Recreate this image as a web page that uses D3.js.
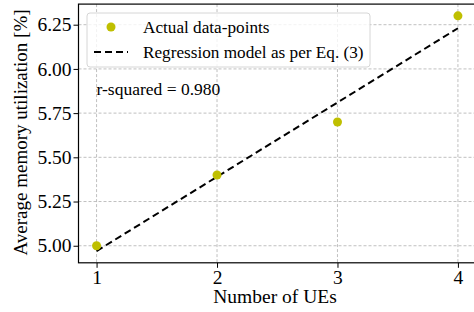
<!DOCTYPE html>
<html>
<head>
<meta charset="utf-8">
<script src="https://cdn.jsdelivr.net/npm/d3@7"></script>
<style>
  body { margin: 0; background: #fff; }
  .grid line { stroke: #b0b0b0; stroke-dasharray: 3,2; stroke-width: 0.8; }
</style>
</head>
<body>
<div class="chart"></div>
<script>
// data
const ues = [1, 2, 3, 4];
const memUtil = [5.00, 5.40, 5.70, 6.30];
const regX = [1, 4];
const regY = [4.97, 6.23];
const xTicks = [1, 2, 3, 4];
const yTicks = [5.00, 5.25, 5.50, 5.75, 6.00, 6.25];
const legendLabels = ["Actual data-points", "Regression model as per Eq. (3)"];
const rSquared = "r-squared = 0.980";

const FONT = "Liberation Serif";
const width = 474, height = 312;
const svg = d3.select(".chart")
    .append("svg")
    .attr("width", width)
    .attr("height", height)
    .attr("font-family", FONT);

let xScale = d3.scaleLinear()
    .domain([0.85, 4.15])
    .range([78.5, 476]);

let yScale = d3.scaleLinear()
    .domain([4.9035, 6.3665])
    .range([262.8, 4.1]);

const plotLeft = xScale.range()[0], plotRight = xScale.range()[1];
const plotTop = yScale.range()[1], plotBottom = yScale.range()[0];

// grid
const grid = svg.append("g").attr("class", "grid");
grid.selectAll(".gx")
    .data(xTicks)
    .enter()
    .append("line")
    .attr("x1", d => xScale(d)).attr("x2", d => xScale(d))
    .attr("y1", plotTop).attr("y2", plotBottom);
grid.selectAll(".gy")
    .data(yTicks)
    .enter()
    .append("line")
    .attr("x1", plotLeft).attr("x2", plotRight)
    .attr("y1", d => yScale(d)).attr("y2", d => yScale(d));

// axes
let xAxis = d3.axisBottom(xScale)
    .tickValues(xTicks)
    .tickFormat(d3.format("d"))
    .tickSize(5)
    .tickPadding(2);
let yAxis = d3.axisLeft(yScale)
    .tickValues(yTicks)
    .tickFormat(d3.format(".2f"))
    .tickSize(5)
    .tickPadding(2);

svg.append("g")
    .attr("class", "axis x-axis")
    .attr("transform", `translate(0, ${plotBottom})`)
    .call(xAxis);
svg.append("g")
    .attr("class", "axis y-axis")
    .attr("transform", `translate(${plotLeft}, 0)`)
    .call(yAxis);

svg.selectAll(".axis").attr("font-family", FONT).attr("font-size", 19.5);
svg.selectAll(".axis .domain").remove();
svg.selectAll(".axis text").attr("fill", "#000");
svg.selectAll(".axis line").attr("stroke", "#000").attr("stroke-width", 1);

// frame
svg.append("rect")
    .attr("x", plotLeft).attr("y", plotTop)
    .attr("width", plotRight - plotLeft).attr("height", plotBottom - plotTop)
    .attr("fill", "none")
    .attr("stroke", "#000")
    .attr("stroke-width", 1.2);

// regression line
svg.append("path")
    .datum(regX.map((x, i) => [x, regY[i]]))
    .attr("d", d3.line().x(d => xScale(d[0])).y(d => yScale(d[1])))
    .attr("fill", "none")
    .attr("stroke", "#000")
    .attr("stroke-width", 2)
    .attr("stroke-dasharray", "7,4");

// points
svg.selectAll(".pt")
    .data(ues)
    .enter()
    .append("circle")
    .attr("cx", d => xScale(d))
    .attr("cy", (d, i) => yScale(memUtil[i]))
    .attr("r", 4.5)
    .attr("fill", "#bfbf00");

// r-squared
svg.append("text")
    .attr("x", xScale(1))
    .attr("y", yScale(5.85))
    .attr("font-family", FONT)
    .attr("font-size", 17.5)
    .text(rSquared);

// legend
const lg = svg.append("g");
lg.append("rect")
    .attr("x", 87).attr("y", 13)
    .attr("width", 283).attr("height", 54)
    .attr("rx", 3)
    .attr("fill", "rgba(255,255,255,0.8)")
    .attr("stroke", "#d6d6d6");
lg.append("circle")
    .attr("cx", 111).attr("cy", 27)
    .attr("r", 4.5)
    .attr("fill", "#bfbf00");
lg.append("line")
    .attr("x1", 94).attr("x2", 128)
    .attr("y1", 52).attr("y2", 52)
    .attr("stroke", "#000")
    .attr("stroke-width", 2)
    .attr("stroke-dasharray", "7,4");
lg.selectAll(".lt")
    .data(legendLabels)
    .enter()
    .append("text")
    .attr("x", 143)
    .attr("y", (d, i) => 32.5 + i * 25)
    .attr("font-family", FONT)
    .attr("font-size", 17.2)
    .text(d => d);

// axis titles
svg.append("text")
    .attr("x", 275)
    .attr("y", 303)
    .attr("text-anchor", "middle")
    .attr("font-family", FONT)
    .attr("font-size", 19.5)
    .text("Number of UEs");
svg.append("text")
    .attr("transform", `translate(27, ${(plotTop + plotBottom) / 2 - 1}) rotate(-90)`)
    .attr("text-anchor", "middle")
    .attr("font-family", FONT)
    .attr("font-size", 19)
    .text("Average memory utilization [%]");
</script>
</body>
</html>
